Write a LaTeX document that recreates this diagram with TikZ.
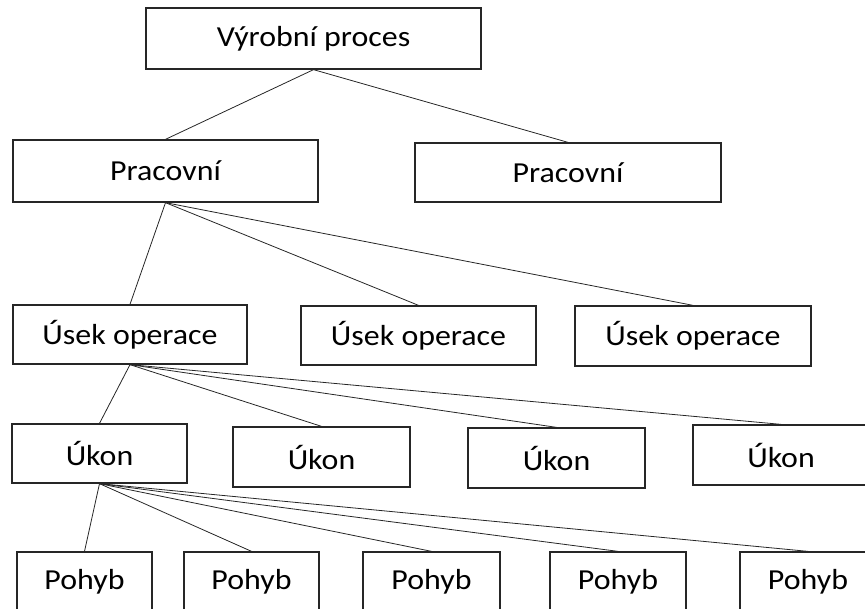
\documentclass[tikz,border=0pt]{standalone}
\usepackage{fontspec}
\setmainfont{Carlito}[FakeStretch=1.1]
\begin{document}
\begin{tikzpicture}[x=1pt,y=-1pt,
  box/.style={draw=black!85,line width=1.3pt,inner sep=0pt,minimum height=60pt,font=\fontsize{29}{32}\selectfont},
  link/.style={draw=black!85,line width=0.8pt}]
\useasboundingbox (0,0) rectangle (865,608);
\node[box,minimum width=335pt,minimum height=61pt] (top) at (313.5,38.5) {Výrobní proces};
\node[box,minimum width=305pt,minimum height=62pt] (p1) at (165.5,171) {Pracovní};
\node[box,minimum width=306pt,minimum height=59pt] (p2) at (568,172.5) {Pracovní};
\node[box,minimum width=234pt,minimum height=59pt] (u1) at (130,334.5) {Úsek operace};
\node[box,minimum width=235pt,minimum height=59pt] (u2) at (418.5,335.5) {Úsek operace};
\node[box,minimum width=236pt,minimum height=60pt] (u3) at (693,336) {Úsek operace};
\node[box,minimum width=175pt,minimum height=59pt] (k1) at (99.5,453.5) {Úkon};
\node[box,minimum width=177pt,minimum height=60pt] (k2) at (321.5,457) {Úkon};
\node[box,minimum width=177pt,minimum height=60pt] (k3) at (556.5,458) {Úkon};
\node[box,minimum width=176pt,minimum height=60pt] (k4) at (781,455) {Úkon};
\node[box,minimum width=135pt] (h1) at (84.5,582) {Pohyb};
\node[box,minimum width=135pt] (h2) at (251.5,582) {Pohyb};
\node[box,minimum width=137pt] (h3) at (431.5,582) {Pohyb};
\node[box,minimum width=136pt] (h4) at (618,582) {Pohyb};
\node[box,minimum width=136pt] (h5) at (808,582) {Pohyb};
\draw[link] (top.south) -- (p1.north);
\draw[link] (top.south) -- (p2.north);
\foreach \c in {u1,u2,u3} \draw[link] (p1.south) -- (\c.north);
\foreach \c in {k1,k2,k3,k4} \draw[link] (u1.south) -- (\c.north);
\foreach \c in {h1,h2,h3,h4,h5} \draw[link] (k1.south) -- (\c.north);
\end{tikzpicture}
\end{document}
